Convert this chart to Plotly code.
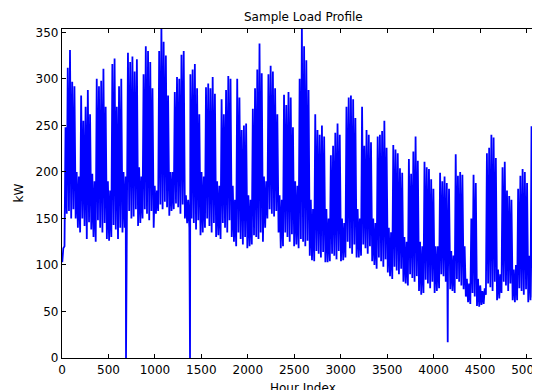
import plotly.graph_objects as go

# Daily peak (afternoon) and trough (night) load in kW, one row per week (Sun..Sat)
daily_peak_kw = [
    118, 248, 312, 331, 297, 292, 200,
    195, 282, 255, 270, 288, 262, 198,
    190, 300, 292, 298, 311, 270, 190,
    180, 316, 322, 270, 292, 300, 200,
    195, 328, 318, 324, 308, 321, 205,
    195, 305, 335, 330, 318, 290, 185,
    180, 330, 356, 340, 325, 282, 200,
    200, 286, 302, 300, 326, 330, 175,
    170, 305, 310, 316, 290, 262, 200,
    195, 291, 295, 290, 302, 284, 190,
    185, 278, 262, 288, 303, 300, 185,
    170, 300, 280, 245, 250, 252, 175,
    170, 268, 290, 310, 338, 306, 195,
    190, 305, 314, 308, 290, 262, 175,
    170, 283, 272, 286, 280, 248, 190,
    185, 300, 356, 335, 320, 288, 170,
    160, 262, 245, 240, 250, 238, 160,
    150, 218, 228, 242, 252, 240, 150,
    145, 270, 280, 282, 278, 258, 160,
    150, 270, 228, 245, 240, 232, 150,
    145, 238, 240, 244, 255, 226, 140,
    135, 229, 224, 220, 204, 199, 130,
    125, 214, 198, 222, 238, 212, 125,
    120, 211, 205, 203, 192, 182, 120,
    120, 199, 190, 195, 188, 182, 115,
    110, 219, 196, 200, 197, 120, 85,
    80, 150, 197, 188, 85, 78, 72,
    75, 220, 226, 240, 237, 215, 95,
    90, 205, 211, 180, 174, 170, 95,
    100, 182, 196, 203, 200, 188, 110,
    249, 175, 190, 185, 180, 175, 110,
]

daily_trough_kw = [
    103, 120, 155, 158, 150, 160, 150,
    140, 135, 150, 142, 128, 146, 138,
    130, 125, 148, 140, 135, 145, 128,
    126, 130, 143, 138, 128, 140, 135,
    140, 145, 158, 150, 152, 160, 142,
    145, 150, 160, 155, 148, 158, 140,
    155, 158, 165, 160, 168, 162, 153,
    158, 160, 166, 162, 155, 165, 150,
    145, 140, 150, 145, 138, 148, 132,
    135, 140, 150, 142, 135, 145, 130,
    132, 128, 145, 140, 135, 148, 130,
    125, 120, 135, 128, 122, 130, 118,
    120, 122, 132, 130, 128, 135, 125,
    140, 150, 160, 155, 152, 158, 135,
    118, 120, 135, 130, 125, 133, 120,
    122, 118, 128, 125, 120, 126, 110,
    105, 104, 115, 112, 108, 114, 103,
    103, 104, 112, 110, 106, 115, 104,
    105, 108, 125, 118, 112, 122, 108,
    108, 110, 122, 118, 112, 120, 104,
    100, 96, 108, 104, 98, 106, 92,
    88, 85, 98, 94, 90, 96, 82,
    80, 78, 90, 86, 82, 88, 72,
    68, 70, 84, 80, 75, 82, 70,
    72, 75, 90, 88, 82, 92, 74,
    72, 70, 85, 82, 78, 74, 66,
    60, 58, 70, 66, 56, 55, 57,
    58, 68, 80, 76, 72, 82, 62,
    64, 70, 82, 78, 72, 80, 62,
    60, 62, 75, 72, 68, 74, 60,
    62, 65, 78, 74, 70, 76, 62,
]

# Isolated meter drop-outs (hour index, kW)
dropout_hours = [689, 1378, 4152]
dropout_kw = [0, 0, 17]

TROUGH_HOUR = 3
PEAK_HOUR = 14

x_ticks = list(range(0, 5001, 500))
y_ticks = list(range(0, 351, 50))

points = []
for d, (pk, tr) in enumerate(zip(daily_peak_kw, daily_trough_kw)):
    points.append((d * 24 + TROUGH_HOUR, tr))
    points.append((d * 24 + PEAK_HOUR, pk))
for h, v in zip(dropout_hours, dropout_kw):
    points.append((h, v))
points.sort(key=lambda p: p[0])
hours = [p[0] for p in points]
load = [p[1] for p in points]

fig = go.Figure()
fig.add_trace(go.Scatter(x=hours, y=load, mode="lines",
                         line=dict(color="#0000ff", width=1.8), hoverinfo="skip"))

# The page body adds an 8 px offset, so margins are reduced by that amount.
ML, MT, MB, MR = 54, 21, 40, 0
PLOT_W = 540 - ML - MR

FONT = "DejaVu Sans"
fig.update_layout(
    width=540, height=390,
    margin=dict(l=ML, r=MR, t=MT, b=MB, autoexpand=False),
    plot_bgcolor="white", paper_bgcolor="white",
    showlegend=False,
    font=dict(family=FONT, size=12, color="black"),
)
fig.update_xaxes(range=[0, PLOT_W / 0.0929], tickvals=x_ticks,
                 ticktext=[str(v) for v in x_ticks],
                 ticks="inside", ticklen=4, tickcolor="black", tickwidth=1,
                 showline=True, linecolor="black", linewidth=1.3, mirror="ticks",
                 showgrid=False, zeroline=False, automargin=False,
                 ticklabeloverflow="allow",
                 tickfont=dict(family=FONT, size=12))
fig.update_yaxes(range=[0, 353.6], tickvals=y_ticks, ticktext=[str(v) for v in y_ticks],
                 ticks="inside", ticklen=4, tickcolor="black", tickwidth=1,
                 showline=True, linecolor="black", linewidth=1.3, mirror=False,
                 showgrid=False, zeroline=False, automargin=False,
                 ticklabeloverflow="allow",
                 tickfont=dict(family=FONT, size=12))

fig.add_annotation(text="Sample Load Profile", xref="paper", yref="paper",
                   x=(295 - ML) / PLOT_W, y=1, xanchor="center", yanchor="bottom",
                   yshift=3, showarrow=False, font=dict(family=FONT, size=12))
fig.add_annotation(text="Hour Index", xref="paper", yref="paper",
                   x=(295 - ML) / PLOT_W, y=0, xanchor="center", yanchor="top",
                   yshift=-21, showarrow=False, font=dict(family=FONT, size=12))
fig.add_annotation(text="kW", xref="paper", yref="paper",
                   x=(10 - ML) / PLOT_W, y=0.5, xanchor="center", yanchor="middle",
                   textangle=-90, showarrow=False, font=dict(family=FONT, size=12))

fig.write_html("out.html")
